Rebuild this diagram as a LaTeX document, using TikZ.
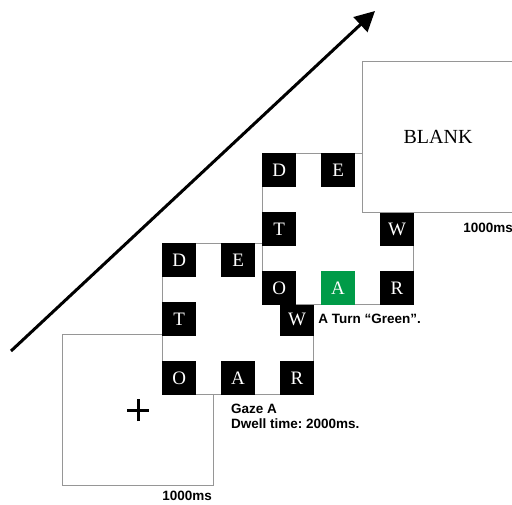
\documentclass[tikz,border=0pt]{standalone}
\usepackage{fontspec}
\setmainfont{Liberation Serif}
\newfontfamily\labelfont{Liberation Sans}
\usetikzlibrary{positioning}
\usetikzlibrary{arrows.meta}
\definecolor{framegray}{RGB}{150,150,150}
\definecolor{turngreen}{RGB}{0,155,72}
\frenchspacing

\begin{document}
\begin{tikzpicture}[x=1pt, y=-1pt,
    screen/.style={draw=framegray, line width=1.2pt, fill=white, minimum size=151pt, inner sep=0pt, anchor=north west},
    letter/.style={fill=black, text=white, minimum size=34pt, inner sep=0pt, font=\fontsize{19}{19}\selectfont},
    info/.style={inner sep=0pt, font=\labelfont\bfseries\fontsize{13.5}{15}\selectfont, align=left},
    node distance=24.5pt]
    \useasboundingbox (0,0) rectangle (512,504);

    \coordinate (tail) at (11,351);
    \coordinate (head) at (375,11);
    \draw[-{Triangle[length=20pt, width=20pt]}, line width=3pt] (tail) -- (head);

    % fixation
    \node[screen] (f1) at (62,334) {};
    \draw[line width=3.2pt] ([xshift=-11pt]f1.center) -- ([xshift=11pt]f1.center);
    \draw[line width=3.2pt] ([yshift=-11pt]f1.center) -- ([yshift=11pt]f1.center);
    \node[info, below left=5pt and 2pt of f1.south east] (t1) {1000ms};

    % gaze
    \node[screen] (f2) at (162,243) {};
    \node[letter, anchor=north west] (f2d) at (f2.north west) {D};
    \node[letter] [right=of f2d] (f2e) {E};
    \node[letter] [below=of f2d] (f2t) {T};
    \node[letter] [below=of f2t] (f2o) {O};
    \node[letter] [right=of f2o] (f2a) {A};
    \node[letter] [right=of f2a] (f2r) {R};
    \node[letter] [above=of f2r] (f2w) {W};
    \node[info, below right=9pt and 10pt of f2a.south west] (t2) {Gaze A\\Dwell time: 2000ms.};

    % feedback
    \node[screen] (f3) at (262,153) {};
    \node[letter, anchor=north west] (f3d) at (f3.north west) {D};
    \node[letter] [right=of f3d] (f3e) {E};
    \node[letter] [below=of f3d] (f3t) {T};
    \node[letter] [below=of f3t] (f3o) {O};
    \node[letter, fill=turngreen] [right=of f3o] (f3a) {A};
    \node[letter] [right=of f3a] (f3r) {R};
    \node[letter] [above=of f3r] (f3w) {W};
    \node[info, right=4pt of f2w] (t3) {A Turn “Green”.};

    % blank
    \node[screen] (f4) at (362,61) {};
    \node[font=\fontsize{20}{20}\selectfont] (blank) at (f4.center) {BLANK};
    \node[info, below left=10pt and 1pt of f4.south east] (t4) {1000ms};

\end{tikzpicture}
\end{document}
